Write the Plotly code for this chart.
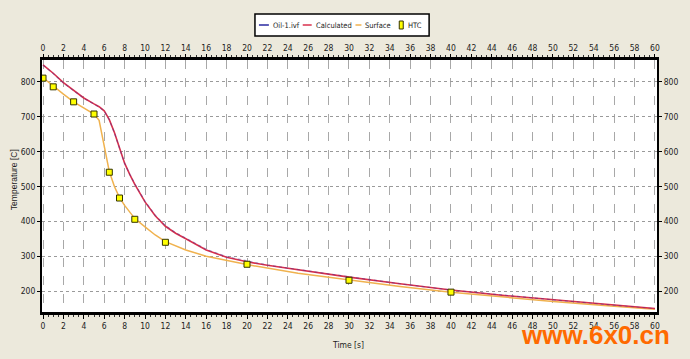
import plotly.graph_objects as go

# ---- data ----
calc_t = [0, 1, 2, 3, 4, 5, 5.5, 6, 6.5, 7, 7.5, 8, 8.5, 9, 10, 11, 12, 13, 14, 16, 18, 20,
          22, 24, 26, 28, 30, 35, 40, 45, 50, 55, 60]
calc_T = [849, 825, 798, 775, 754, 737, 729, 717, 692, 655, 608, 567, 535, 506, 456, 416, 386, 366,
          350, 318, 297, 284, 274, 265, 257, 248, 240, 221, 203, 188, 175, 162, 150]

oil_t = [0, 1, 2, 3, 4, 5, 5.5, 6, 6.5, 7, 7.5, 8, 8.5, 9, 10, 11, 12, 13, 14, 16, 18, 20,
         22, 24, 26, 28, 30, 35, 40, 45, 50, 55, 60]
oil_T = [848, 824, 797, 774, 753, 736, 728, 716, 691, 654, 607, 566, 536, 508, 458, 418, 388, 368,
         352, 320, 299, 286, 275, 266, 258, 248, 240, 221, 203, 188, 175, 162, 150]

surf_t = [0, 1, 2, 3, 4, 5, 5.5, 6, 6.5, 7, 7.5, 8, 9, 10, 11, 12, 14, 16, 18, 20, 25, 30, 35,
          40, 45, 50, 55, 60]
surf_T = [812, 788, 765, 743, 725, 708, 690, 615, 543, 500, 468, 446, 408, 384, 361, 342, 318, 300,
          287, 276, 251, 231, 213, 197, 183, 170, 159, 148]

htc_t = [0, 1, 3, 5, 6.5, 7.5, 9, 12, 20, 30, 40]
htc_T = [811, 786, 743, 708, 541, 467, 406, 340, 277, 231, 197]

x_ticks = list(range(0, 61, 2))
y_ticks = [200, 300, 400, 500, 600, 700, 800]

legend_names = ["Oil-1.ivf", "Calculated", "Surface", "HTC"]

# ---- layout geometry ----
W, H = 690, 359
ML, MR, MT, MB = 42, 30, 60, 47
PW, PH = W - ML - MR, H - MT - MB

def px(x):
    return (x - ML) / PW

def py(y):
    return (H - MB - y) / PH

BLUE = "#2a2aa0"
RED = "#d8304c"
ORANGE = "#f0b24e"
YELLOW = "#ffff00"
BG = "#ece9dc"
NARROW = "DejaVu Sans Condensed, Liberation Sans Narrow, sans-serif"

fig = go.Figure()

fig.add_trace(go.Scatter(x=surf_t, y=surf_T, mode="lines", name=legend_names[2],
                         line=dict(color=ORANGE, width=1.5), showlegend=False))
fig.add_trace(go.Scatter(x=calc_t, y=calc_T, mode="lines", name=legend_names[1],
                         line=dict(color=RED, width=1.6), showlegend=False))
fig.add_trace(go.Scatter(x=oil_t, y=oil_T, mode="lines", name=legend_names[0],
                         line=dict(color=BLUE, width=1.2, dash="dot"), opacity=0.35,
                         showlegend=False))
fig.add_trace(go.Scatter(x=htc_t, y=htc_T, mode="markers", name=legend_names[3],
                         marker=dict(symbol="square", size=6, color=YELLOW,
                                     line=dict(color="#333300", width=1)),
                         showlegend=False))
# invisible trace to activate the top / right axes
fig.add_trace(go.Scatter(x=[30], y=[500], xaxis="x2", yaxis="y2", mode="markers",
                         marker=dict(opacity=0), hoverinfo="skip", showlegend=False))

tickfont = dict(family=NARROW, size=8.5, color="#222222")

fig.update_layout(
    width=W, height=H,
    margin=dict(l=ML, r=MR, t=MT, b=MB),
    paper_bgcolor=BG, plot_bgcolor="white",
    showlegend=False,
    xaxis=dict(range=[-0.1, 60.2], tickvals=x_ticks, ticktext=[str(v) for v in x_ticks],
               showgrid=True, gridcolor="#a8a8a8", griddash="dash", gridwidth=1,
               zeroline=False, showline=True, linecolor="black", linewidth=3,
               ticks="outside", ticklen=4, tickcolor="black", tickfont=tickfont,
               minor=dict(dtick=0.5, ticks="outside", ticklen=2, tickcolor="#333333",
                          showgrid=False)),
    xaxis2=dict(range=[-0.1, 60.2], tickvals=x_ticks, ticktext=[str(v) for v in x_ticks],
                overlaying="x", side="top", anchor="y", showgrid=False, zeroline=False,
                showline=True, linecolor="black", linewidth=3,
                ticks="outside", ticklen=3, tickcolor="black", tickfont=tickfont,
                minor=dict(dtick=0.5, ticks="outside", ticklen=2, tickcolor="#333333")),
    yaxis=dict(range=[140, 863], tickvals=y_ticks, ticktext=[str(v) for v in y_ticks],
               showgrid=True, gridcolor="#9a9a9a", griddash="dot", gridwidth=1,
               zeroline=False, showline=True, linecolor="black", linewidth=2,
               ticks="outside", ticklen=3, tickcolor="black", tickfont=tickfont),
    yaxis2=dict(range=[140, 863], tickvals=y_ticks, ticktext=[str(v) for v in y_ticks],
                overlaying="y", side="right", anchor="x", showgrid=False, zeroline=False,
                showline=True, linecolor="black", linewidth=2,
                ticks="outside", ticklen=3, tickcolor="black", tickfont=tickfont),
)

# axis titles
fig.add_annotation(text="Temperature [C]", x=px(14), y=py(180), xref="paper", yref="paper",
                   xanchor="center", yanchor="middle", textangle=-90, showarrow=False,
                   font=dict(family="Liberation Sans, Arial, sans-serif", size=8.5,
                             color="#222222"))
fig.add_annotation(text="Time [s]", x=px(349), y=py(345), xref="paper", yref="paper",
                   xanchor="center", yanchor="middle",
                   showarrow=False, font=dict(family=NARROW, size=8.5, color="#222222"))

# legend box (drawn manually to match compact legend)
fig.add_shape(type="rect", xref="paper", yref="paper", x0=px(256), x1=px(431),
              y0=py(36), y1=py(14), line=dict(color="black", width=1.5), fillcolor="white")
ly = py(25)
leg_font = dict(family=NARROW, size=7.5, color="#222222")
items = [(260, 270, BLUE, 272, legend_names[0]),
         (304, 313, RED, 315, legend_names[1]),
         (357, 363, ORANGE, 365, legend_names[2])]
for x0, x1, col, tx, name in items:
    fig.add_shape(type="line", xref="paper", yref="paper", x0=px(x0), x1=px(x1), y0=ly, y1=ly,
                  line=dict(color=col, width=1.5))
    fig.add_annotation(text=name, x=px(tx), y=ly, xref="paper", yref="paper", xanchor="left",
                       yanchor="middle", showarrow=False, font=leg_font)
fig.add_shape(type="rect", xref="paper", yref="paper", x0=px(401), x1=px(405),
              y0=py(29), y1=py(21), line=dict(color="#333300", width=1), fillcolor=YELLOW)
fig.add_annotation(text=legend_names[3], x=px(408), y=ly, xref="paper", yref="paper",
                   xanchor="left", yanchor="middle", showarrow=False, font=leg_font)

# watermark
fig.add_annotation(text="www.6x0.cn", x=px(598), y=py(335), xref="paper", yref="paper",
                   xanchor="center", yanchor="middle", showarrow=False,
                   font=dict(family="Liberation Sans, Arial, sans-serif", size=26,
                             color="#ff6a00", weight="bold"))

fig.write_html("out.html")
